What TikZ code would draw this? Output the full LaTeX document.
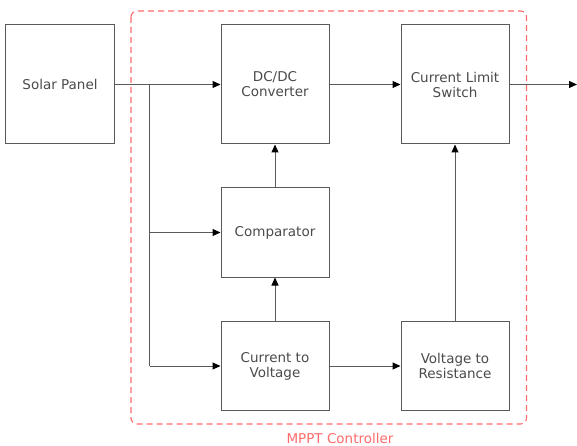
\documentclass[tikz,border=0pt]{standalone}
\usepackage{fontspec}
\setmainfont{DejaVu Sans}
\usetikzlibrary{arrows.meta,calc}
\definecolor{boxline}{HTML}{5A5A5A}
\definecolor{boxtext}{HTML}{4A4A4A}
\definecolor{mpptred}{HTML}{FF6B6B}
\begin{document}
\begin{tikzpicture}[x=1bp,y=-1bp,
  block/.style={draw=boxline,line width=1bp,rectangle,minimum width=108bp,
    minimum height=119bp,inner sep=0pt,align=center,text=boxtext,
    font=\fontsize{13.5bp}{15bp}\selectfont},
  shortblock/.style={block,minimum height=89bp},
  link/.style={draw=boxline,line width=1bp,
    -{Triangle[length=8bp,width=7bp,color=black,fill=black]}},
  wire/.style={draw=boxline,line width=1bp}]
\useasboundingbox (0,0) rectangle (577,446);
% controller frame
\draw[mpptred,dashed,dash pattern=on 6bp off 4bp,line width=1.1bp,rounded corners=6bp]
  (131,11) rectangle (526.5,424);
\node[text=mpptred,font=\fontsize{13.5bp}{15bp}\selectfont] (mppt) at (340,438) {MPPT Controller};
% blocks
\node[block] (solar) at (60,84.5) {Solar Panel};
\node[block] (dcdc) at (275,84.5) {DC/DC\\Converter};
\node[block] (cls) at (455,84.5) {Current Limit\\Switch};
\node[shortblock] (comp) at (275,232.5) {Comparator};
\node[shortblock] (c2v) at (275,366) {Current to\\Voltage};
\node[shortblock] (v2r) at (455,366) {Voltage to\\Resistance};
% branch points and free end
\coordinate (tap) at (149.5,84.5);
\coordinate (tapc) at (149.5,232.5);
\coordinate (tapv) at (149.5,366);
\coordinate (out) at (577,84.5);
% connectors
\draw[link] (solar.east) -- (dcdc.west);
\draw[wire] (tap) -- (tapv);
\draw[link] (tapc) -- (comp.west);
\draw[link] (tapv) -- (c2v.west);
\draw[link] (dcdc.east) -- (cls.west);
\draw[link] (cls.east) -- (out);
\draw[link] (comp.north) -- (dcdc.south);
\draw[link] (c2v.north) -- (comp.south);
\draw[link] (c2v.east) -- (v2r.west);
\draw[link] (v2r.north) -- (cls.south);
\end{tikzpicture}
\end{document}
